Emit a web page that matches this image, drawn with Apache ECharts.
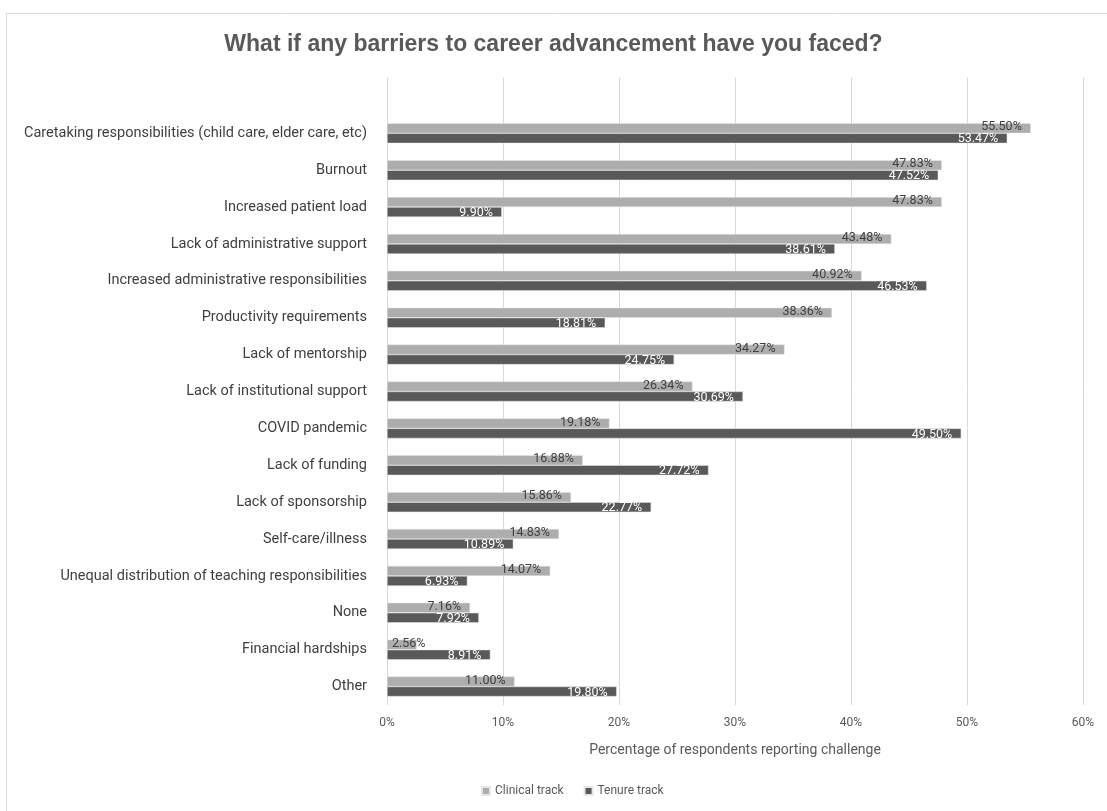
<!DOCTYPE html>
<html>
<head>
<meta charset="utf-8">
<script src="https://cdn.jsdelivr.net/npm/echarts@6/dist/echarts.min.js"></script>
<style>
html,body{margin:0;padding:0;background:#fff;}
#chart{width:1107px;height:811px;}
</style>
</head>
<body>
<div id="chart"></div>
<script>
const categories = [
  'Caretaking responsibilities (child care, elder care, etc)',
  'Burnout',
  'Increased patient load',
  'Lack of administrative support',
  'Increased administrative responsibilities',
  'Productivity requirements',
  'Lack of mentorship',
  'Lack of institutional support',
  'COVID pandemic',
  'Lack of funding',
  'Lack of sponsorship',
  'Self-care/illness',
  'Unequal distribution of teaching responsibilities',
  'None',
  'Financial hardships',
  'Other'
];
const clinicalTrack = [55.50, 47.83, 47.83, 43.48, 40.92, 38.36, 34.27, 26.34, 19.18, 16.88, 15.86, 14.83, 14.07, 7.16, 2.56, 11.00];
const tenureTrack = [53.47, 47.52, 9.90, 38.61, 46.53, 18.81, 24.75, 30.69, 49.50, 27.72, 22.77, 10.89, 6.93, 7.92, 8.91, 19.80];
const xTicks = [0, 10, 20, 30, 40, 50, 60];

const fontFamily = 'Roboto, "Liberation Sans", sans-serif';
const chart = echarts.init(document.getElementById('chart'), null, {renderer: 'canvas'});

// one empty slot above the first category, as in the reference
const axisCats = [''].concat(categories);
// bars too short to hold their label get it pinned to the axis start
function toItems(arr) {
  return [null].concat(arr.map(v => v < 4
    ? {value: v, label: {position: 'insideLeft', distance: 5}}
    : v));
}
const fmt = p => p.value == null ? '' : p.value.toFixed(2) + '%';

chart.setOption({
  animation: false,
  backgroundColor: '#fff',
  textStyle: {fontFamily: fontFamily},
  graphic: [{
    type: 'rect', left: 4, top: 11,
    shape: {width: 1120, height: 798},
    style: {fill: 'none', stroke: '#d9d9d9', lineWidth: 1},
    silent: true, z: -1
  }],
  title: {
    text: 'What if any barriers to career advancement have you faced?',
    left: 'center', top: 28,
    textStyle: {fontFamily: '"Liberation Sans Narrow", "Liberation Sans", sans-serif', fontSize: 23, fontWeight: 'bold', color: '#595959'}
  },
  legend: {
    bottom: 9, left: 476,
    itemWidth: 8, itemHeight: 8, itemGap: 20,
    icon: 'rect',
    textStyle: {fontSize: 12, color: '#595959', fontFamily: fontFamily},
    data: ['Clinical track', 'Tenure track']
  },
  grid: {left: 387, right: 24, top: 78, bottom: 106, containLabel: false},
  xAxis: {
    type: 'value', min: xTicks[0], max: xTicks[xTicks.length - 1], interval: 10,
    axisLine: {show: false}, axisTick: {show: false},
    splitLine: {lineStyle: {color: '#d9d9d9', width: 1}},
    axisLabel: {formatter: '{value}%', color: '#595959', fontSize: 12, margin: 12},
    name: 'Percentage of respondents reporting challenge',
    nameLocation: 'middle', nameGap: 38,
    nameTextStyle: {fontSize: 14, color: '#595959'}
  },
  yAxis: {
    type: 'category', inverse: true, data: axisCats,
    axisLine: {show: false}, axisTick: {show: false},
    axisLabel: {color: '#404040', fontSize: 14.5, margin: 20}
  },
  series: [
    {
      name: 'Clinical track', type: 'bar', data: toItems(clinicalTrack),
      barWidth: 10, barGap: '0%',
      itemStyle: {color: '#adadad', borderColor: '#e6e6e6', borderWidth: 0.5},
      label: {
        show: true, position: 'insideRight', distance: 9, offset: [0, -1],
        color: '#404040', fontSize: 12.5, formatter: fmt
      }
    },
    {
      name: 'Tenure track', type: 'bar', data: toItems(tenureTrack),
      barWidth: 10, barGap: '0%',
      itemStyle: {color: '#595959', borderColor: '#e6e6e6', borderWidth: 0.5},
      label: {
        show: true, position: 'insideRight', distance: 9, offset: [0, 1],
        color: '#ffffff', fontSize: 12.5, formatter: fmt
      }
    }
  ]
});
</script>
</body>
</html>
